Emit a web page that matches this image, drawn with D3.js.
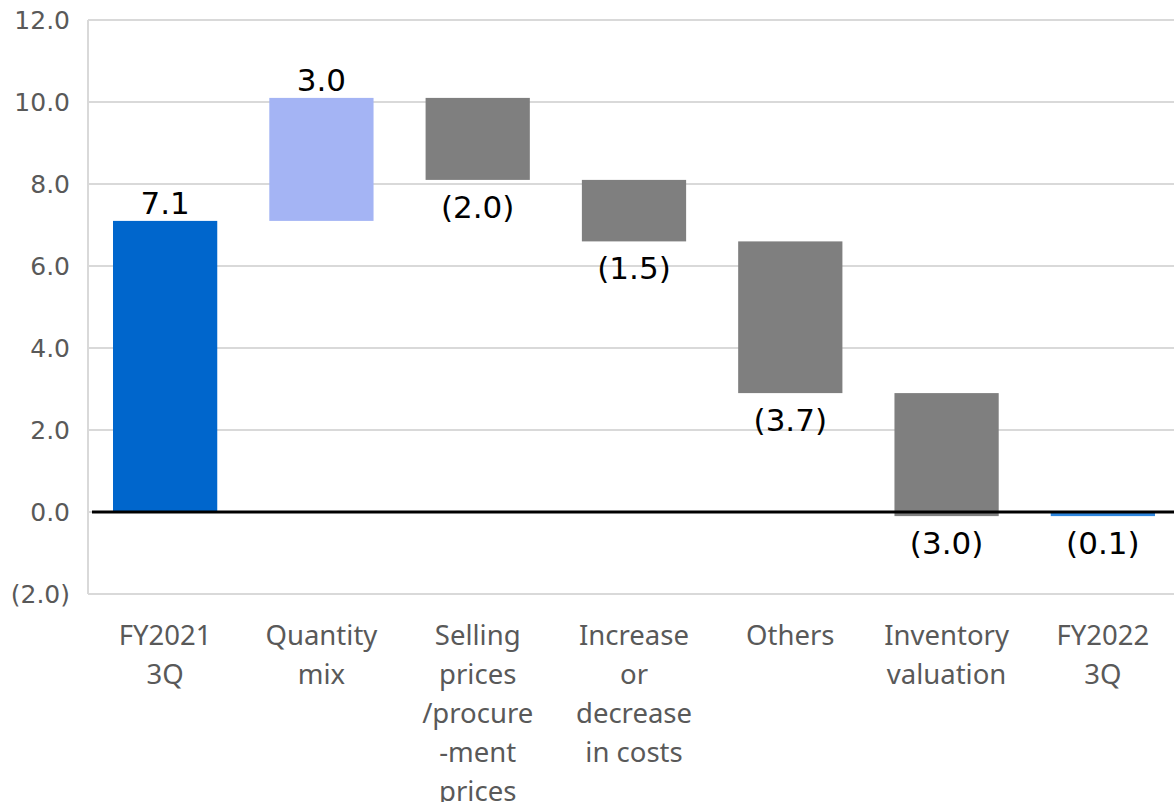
<!DOCTYPE html>
<html><head><meta charset="utf-8">
<script src="https://cdn.jsdelivr.net/npm/d3@7"></script>
<style>body{margin:0;background:#fff}</style>
</head><body>
<svg id="c" width="1174" height="802"></svg>
<script>
const categories = [["FY2021","3Q"],["Quantity","mix"],["Selling","prices","/procure","-ment","prices"],["Increase","or","decrease","in costs"],["Others"],["Inventory","valuation"],["FY2022","3Q"]];
const starts = [0, 7.1, 10.1, 8.1, 6.6, 2.9, 0];
const ends   = [7.1, 10.1, 8.1, 6.6, 2.9, -0.1, -0.1];
const labels = ["7.1","3.0","(2.0)","(1.5)","(3.7)","(3.0)","(0.1)"];
const kinds  = ["total","up","down","down","down","down","total2"];
const yTicks = [-2,0,2,4,6,8,10,12];
const colors = {total:"#0066CC", up:"#A4B4F4", down:"#7F7F7F", total2:"#2E86DE"};

const svg = d3.select("#c");
const L = 88, R = 1174, T = 20, B = 594;
const x = d3.scaleBand().domain(d3.range(categories.length)).range([L,L+7*156]).paddingInner(0.333).paddingOuter(0.16);
const y = d3.scaleLinear().domain([-2,12]).range([B,T]);

// gridlines
svg.append("g").selectAll("line").data(yTicks).join("line")
  .attr("x1",L).attr("x2",R).attr("y1",d=>y(d)).attr("y2",d=>y(d))
  .attr("stroke","#d9d9d9").attr("stroke-width",2);
svg.append("line").attr("x1",L).attr("x2",L).attr("y1",T).attr("y2",B).attr("stroke","#d9d9d9").attr("stroke-width",2);

// y tick labels
svg.append("g").selectAll("text").data(yTicks).join("text")
  .attr("x",70).attr("y",d=>y(d)).attr("dy","0.36em").attr("text-anchor","end")
  .attr("font-family","DejaVu Sans").attr("font-size",25).attr("fill","#595959")
  .text(d=> d<0 ? "("+Math.abs(d).toFixed(1)+")" : d.toFixed(1));

// bars
svg.append("g").selectAll("rect").data(d3.range(categories.length)).join("rect")
  .attr("x",i=>x(i)).attr("width",x.bandwidth())
  .attr("y",i=>y(Math.max(starts[i],ends[i])))
  .attr("height",i=>Math.max(2,Math.abs(y(starts[i])-y(ends[i]))))
  .attr("fill",i=>colors[kinds[i]]);

// zero line
svg.append("line").attr("x1",L+4).attr("x2",R).attr("y1",y(0)).attr("y2",y(0)).attr("stroke","#000").attr("stroke-width",3);

// value labels
svg.append("g").selectAll("text").data(d3.range(categories.length)).join("text")
  .attr("x",i=>x(i)+x.bandwidth()/2)
  .attr("y",i=> kinds[i]==="total"||kinds[i]==="up" ? y(Math.max(starts[i],ends[i]))-7 : y(Math.min(starts[i],ends[i]))+38)
  .attr("text-anchor","middle").attr("font-family","DejaVu Sans").attr("font-size",31).attr("fill","#000")
  .text(i=>labels[i]);

// category labels
const cg = svg.append("g").selectAll("text").data(d3.range(categories.length)).join("text")
  .attr("text-anchor","middle").attr("font-family","Noto Sans").attr("font-size",27.5).attr("fill","#595959");
cg.each(function(i){
  const t = d3.select(this);
  categories[i].forEach((s,k)=>{
    t.append("tspan").attr("x",x(i)+x.bandwidth()/2).attr("y",645+k*39).text(s);
  });
});
</script>
</body></html>
